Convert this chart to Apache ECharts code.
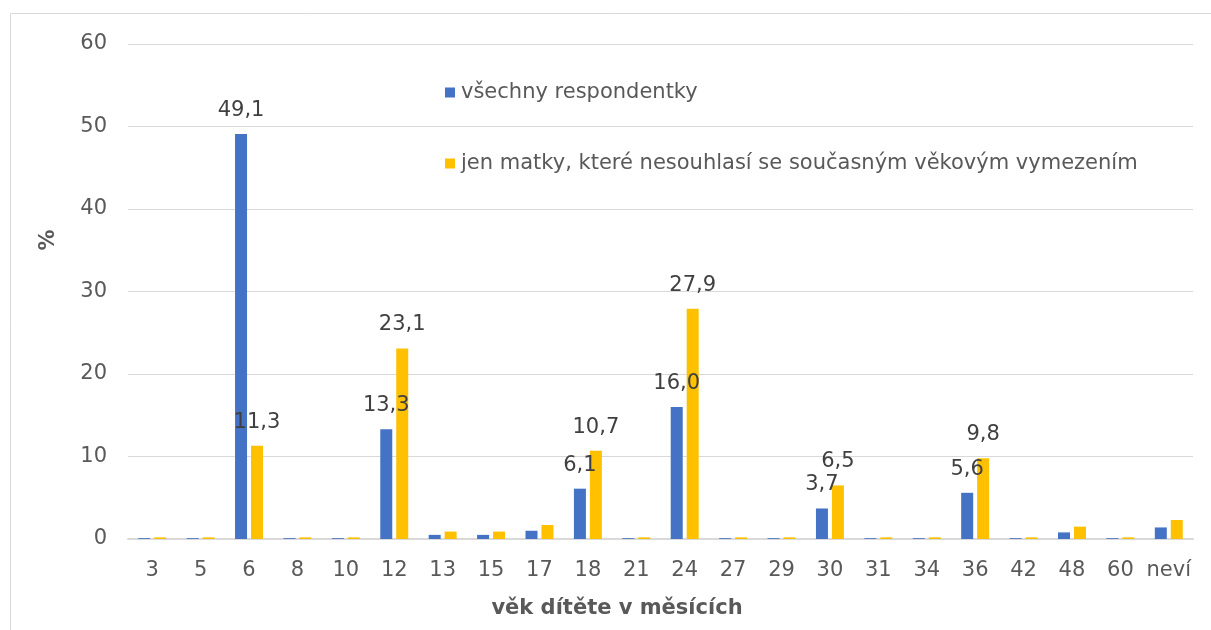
<!DOCTYPE html>
<html>
<head>
<meta charset="utf-8">
<script src="https://cdn.jsdelivr.net/npm/echarts@6/dist/echarts.min.js"></script>
<style>
  html, body { margin: 0; padding: 0; background: #fff; }
  #chart { width: 1211px; height: 630px; }
</style>
</head>
<body>
<div id="chart"></div>
<script>
var categories = ['3', '5', '6', '8', '10', '12', '13', '15', '17', '18', '21', '24', '27', '29', '30', '31', '34', '36', '42', '48', '60', 'neví'];
var allRespondents = [0.1, 0.1, 49.1, 0.1, 0.1, 13.3, 0.5, 0.5, 1.0, 6.1, 0.1, 16.0, 0.1, 0.1, 3.7, 0.1, 0.1, 5.6, 0.1, 0.8, 0.1, 1.4];
var disagreeingMothers = [0.2, 0.2, 11.3, 0.2, 0.2, 23.1, 0.9, 0.9, 1.7, 10.7, 0.2, 27.9, 0.2, 0.2, 6.5, 0.2, 0.2, 9.8, 0.2, 1.5, 0.2, 2.3];
var yTicks = [0, 10, 20, 30, 40, 50, 60];

var fontFamily = '"DejaVu Sans", Verdana, sans-serif';

function labelText(p) {
    return p.value >= 3 ? p.value.toFixed(1).replace('.', ',') : '';
}

var barLabel = {
    show: true,
    position: 'top',
    distance: 13,
    formatter: labelText,
    color: '#404040',
    fontSize: 21,
    fontFamily: fontFamily
};

var option = {
    animation: false,
    backgroundColor: '#fff',
    textStyle: { fontFamily: fontFamily },
    grid: {
        left: 128,
        right: 18,
        top: 44,
        bottom: 91
    },
    legend: {
        orient: 'vertical',
        left: 440,
        top: 77,
        itemWidth: 10,
        itemHeight: 10,
        itemGap: 50,
        icon: 'rect',
        textStyle: { color: '#595959', fontSize: 21, fontFamily: fontFamily, padding: [0, 0, 0, 1] },
        data: ['všechny respondentky', 'jen matky, které nesouhlasí se současným věkovým vymezením']
    },
    xAxis: {
        type: 'category',
        data: categories,
        axisLine: { lineStyle: { color: '#d9d9d9', width: 2 } },
        axisTick: { show: false },
        axisLabel: { color: '#595959', fontSize: 21, margin: 21, interval: 0, fontFamily: fontFamily }
    },
    yAxis: {
        type: 'value',
        min: yTicks[0],
        max: yTicks[yTicks.length - 1],
        interval: 10,
        axisLine: { show: false },
        axisTick: { show: false },
        axisLabel: { color: '#595959', fontSize: 21, margin: 21, fontFamily: fontFamily },
        splitLine: { lineStyle: { color: '#d9d9d9', width: 1 } }
    },
    series: [{
        name: 'všechny respondentky',
        type: 'bar',
        data: allRespondents,
        barWidth: 12,
        barGap: '33%',
        itemStyle: { color: '#4472c4' },
        label: barLabel
    }, {
        name: 'jen matky, které nesouhlasí se současným věkovým vymezením',
        type: 'bar',
        data: disagreeingMothers,
        barWidth: 12,
        itemStyle: { color: '#ffc000' },
        label: barLabel
    }],
    graphic: [{
        type: 'rect',
        shape: { x: 10.5, y: 13.5, width: 1220, height: 640 },
        style: { fill: 'none', stroke: '#d9d9d9', lineWidth: 1 },
        silent: true
    }, {
        type: 'text',
        x: 49,
        y: 240,
        rotation: Math.PI / 2,
        style: {
            text: '%',
            fill: '#595959',
            font: 'bold 21px ' + fontFamily,
            align: 'center',
            verticalAlign: 'middle'
        }
    }, {
        type: 'text',
        x: 617,
        y: 609,
        style: {
            text: 'věk dítěte v měsících',
            fill: '#595959',
            font: 'bold 21px ' + fontFamily,
            align: 'center',
            verticalAlign: 'middle'
        }
    }]
};

var myChart = echarts.init(document.getElementById('chart'));
myChart.setOption(option);
</script>
</body>
</html>
